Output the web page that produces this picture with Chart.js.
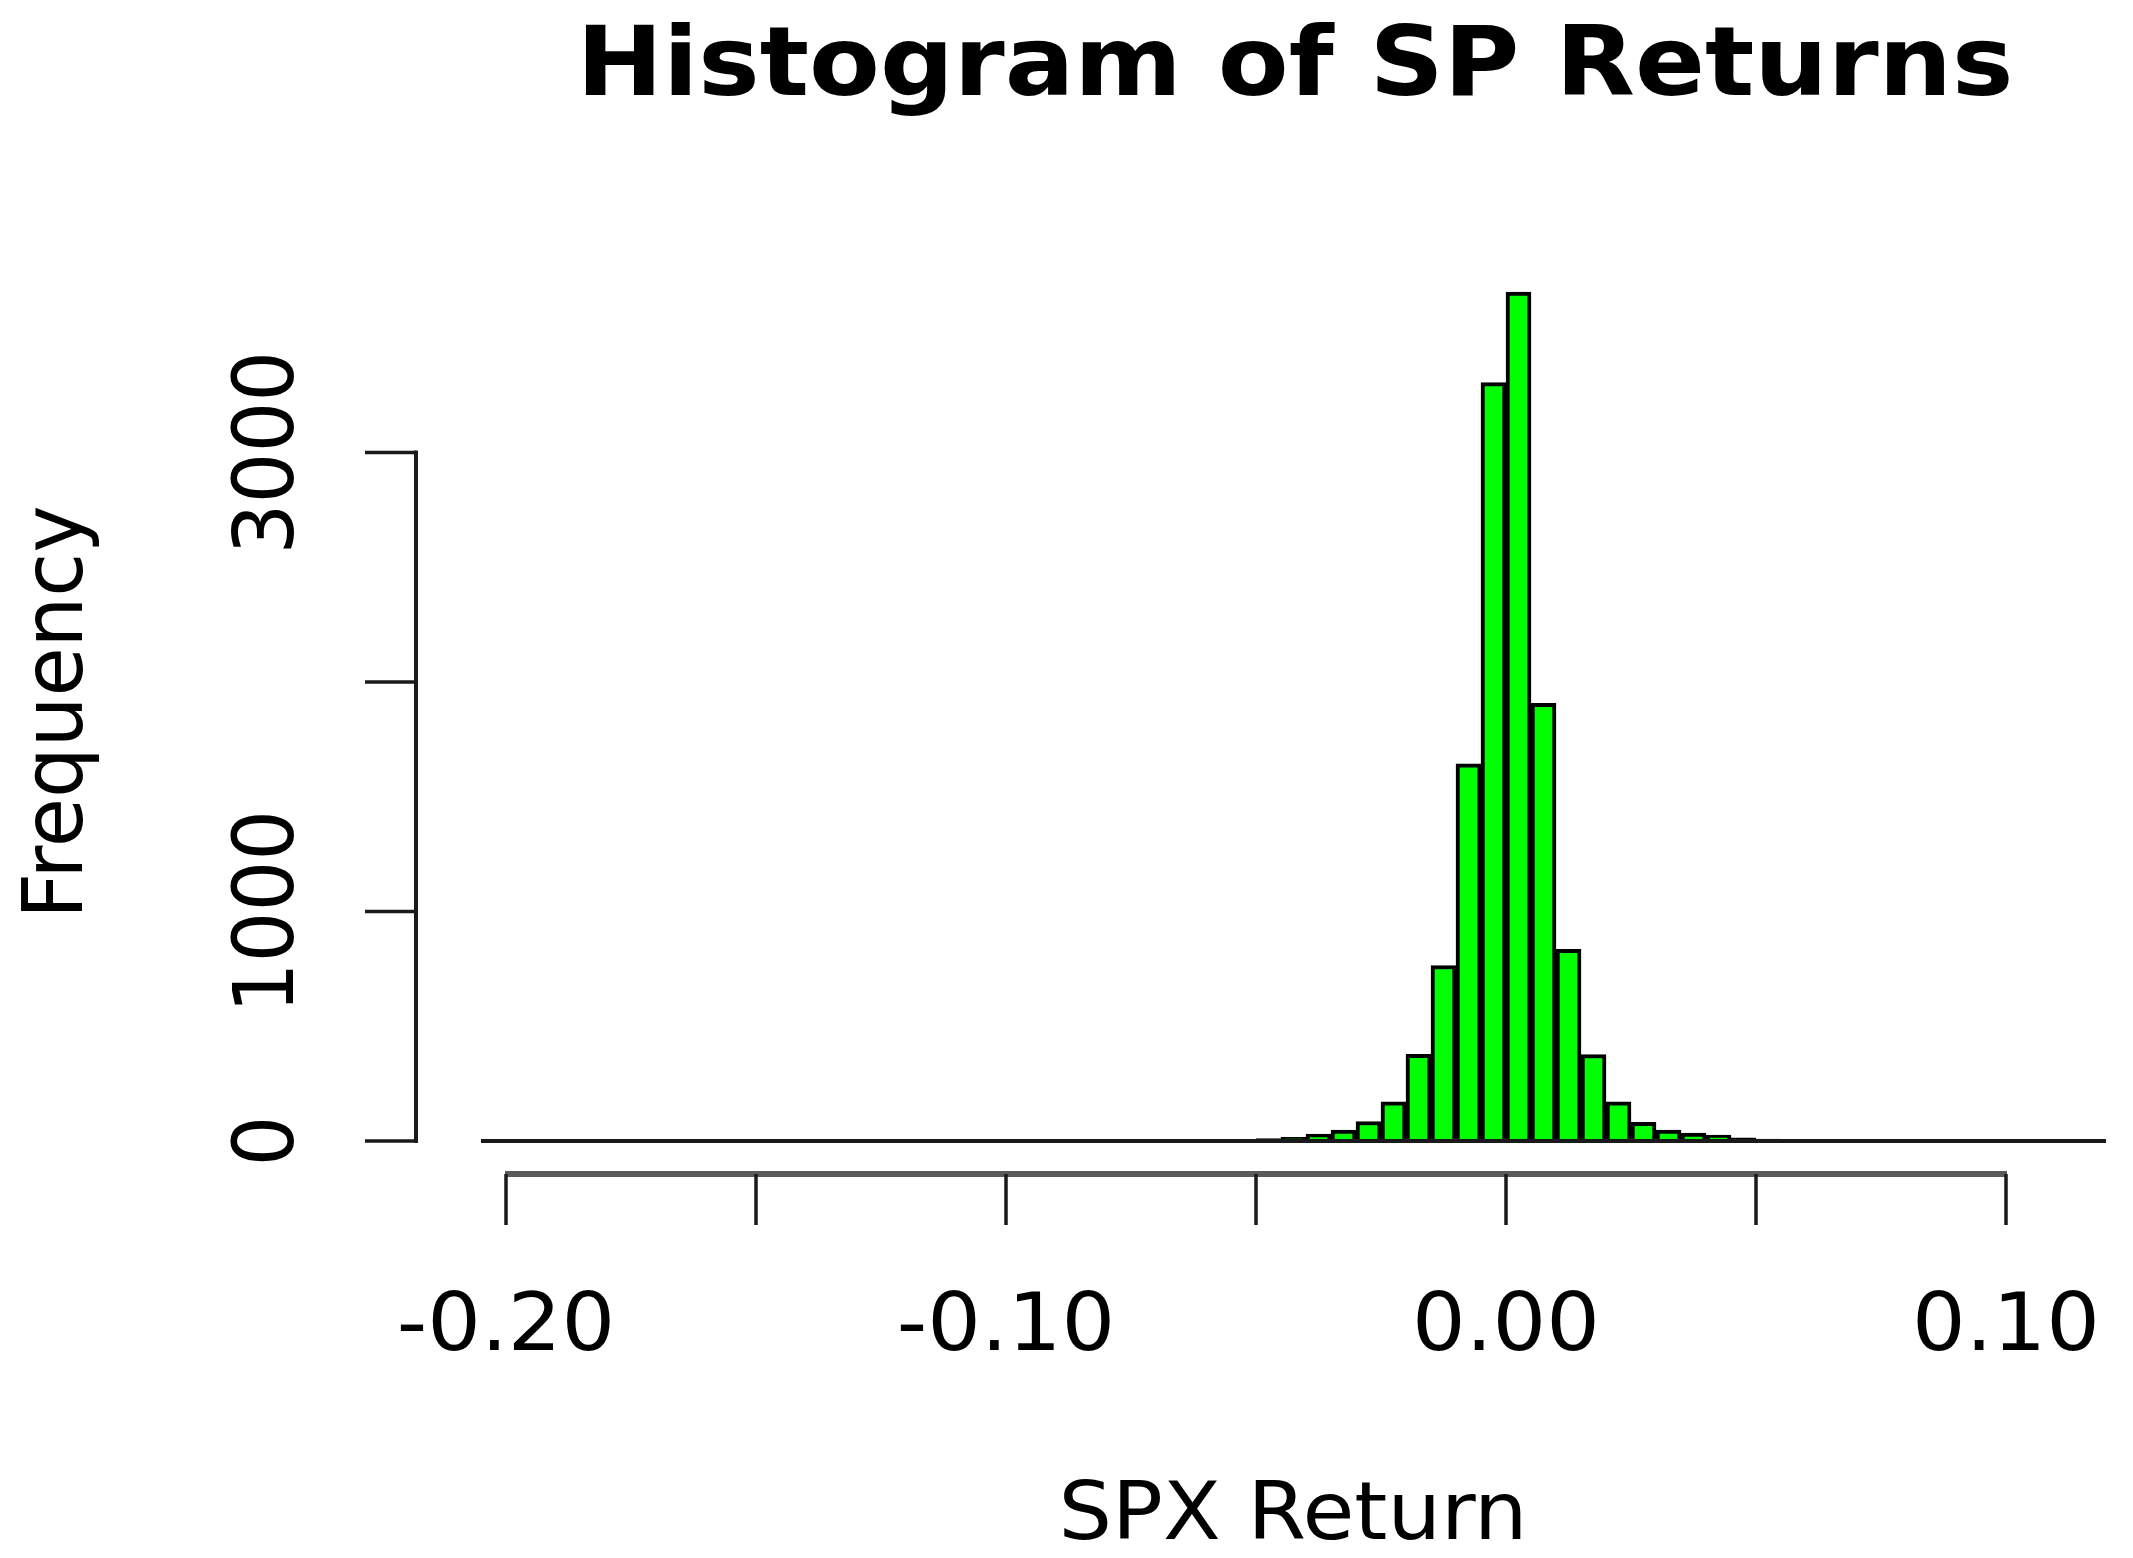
<!DOCTYPE html>
<html><head><meta charset="utf-8">
<script src="https://cdn.jsdelivr.net/npm/chart.js@4.4.1/dist/chart.umd.min.js"></script>
<style>html,body{margin:0;padding:0;background:#fff;overflow:hidden}canvas{display:block}</style>
</head><body>
<canvas id="c" width="2133" height="1558"></canvas>
<script>
// ---- data (histogram of daily S&P 500 returns, bin width 0.005) ----
const binCenters = [
  -0.2025,-0.1975,-0.1925,-0.1875,-0.1825,-0.1775,-0.1725,-0.1675,-0.1625,-0.1575,
  -0.1525,-0.1475,-0.1425,-0.1375,-0.1325,-0.1275,-0.1225,-0.1175,-0.1125,-0.1075,
  -0.1025,-0.0975,-0.0925,-0.0875,-0.0825,-0.0775,-0.0725,-0.0675,-0.0625,-0.0575,
  -0.0525,-0.0475,-0.0425,-0.0375,-0.0325,-0.0275,-0.0225,-0.0175,-0.0125,-0.0075,
  -0.0025,0.0025,0.0075,0.0125,0.0175,0.0225,0.0275,0.0325,0.0375,0.0425,
  0.0475,0.0525,0.0575,0.0625,0.0675,0.0725,0.0775,0.0825,0.0875,0.0925,
  0.0975,0.1025,0.1075,0.1125,0.1175
];
const counts = [
  1,0,0,0,0,0,0,0,0,0,
  0,0,0,0,0,0,0,1,0,0,
  0,1,1,2,1,2,3,3,4,5,
  7,11,16,30,48,85,171,378,765,1644,
  3305,3700,1907,835,377,171,82,48,35,26,
  14,9,5,3,2,2,2,1,1,1,
  0,1,1,0,1
];
const binWidth = 0.005;
const xTickValues = [-0.20,-0.15,-0.10,-0.05,0.00,0.05,0.10];
const xTickLabels = ['-0.20','','-0.10','','0.00','','0.10'];
const yTickValues = [0,1000,2000,3000];
const yTickLabels = ['0','1000','','3000'];
const titleText = 'Histogram of SP Returns';
const xAxisTitle = 'SPX Return';
const yAxisTitle = 'Frequency';

const FONT = '"DejaVu Sans", "Liberation Sans", sans-serif';

function drawText(ctx, text, x, y, size, bold, sx, rotated) {
  ctx.save();
  ctx.translate(x, y);
  ctx.scale(sx, 1);
  if (rotated) ctx.rotate(-Math.PI / 2);
  ctx.font = (bold ? 'bold ' : '') + size + 'px ' + FONT;
  ctx.textAlign = 'center';
  ctx.textBaseline = 'alphabetic';
  ctx.fillStyle = '#000';
  ctx.fillText(text, 0, 0);
  ctx.restore();
}

const rStyle = {
  id: 'rStyle',
  afterDatasetsDraw(chart) {
    const ctx = chart.ctx, xs = chart.scales.x, ys = chart.scales.y;
    const y0 = ys.getPixelForValue(0);
    const xa = xs.getPixelForValue(binCenters[0] - binWidth / 2);
    const xb = xs.getPixelForValue(binCenters[binCenters.length - 1] + binWidth / 2);
    ctx.save();
    ctx.strokeStyle = '#1a1a1a';
    ctx.lineWidth = 4;
    ctx.beginPath();
    ctx.moveTo(xa, y0);
    ctx.lineTo(xb, y0);
    ctx.stroke();
    ctx.restore();
  },
  afterDraw(chart) {
    const ctx = chart.ctx, xs = chart.scales.x, ys = chart.scales.y, ca = chart.chartArea;
    ctx.save();
    ctx.lineCap = 'butt';
    const ax = ca.left;
    ctx.strokeStyle = '#1a1a1a';
    ctx.lineWidth = 4;
    ctx.beginPath();
    ctx.moveTo(ax, ys.getPixelForValue(yTickValues[0]) + 2);
    ctx.lineTo(ax, ys.getPixelForValue(yTickValues[yTickValues.length - 1]) - 2);
    ctx.stroke();
    ctx.lineWidth = 3.5;
    yTickValues.forEach(v => {
      const py = ys.getPixelForValue(v);
      ctx.beginPath();
      ctx.moveTo(ax - 51, py);
      ctx.lineTo(ax, py);
      ctx.stroke();
    });
    const ay = ca.bottom - 1;
    ctx.strokeStyle = '#5a5a5a';
    ctx.lineWidth = 6;
    ctx.beginPath();
    ctx.moveTo(xs.getPixelForValue(xTickValues[0]) - 1, ay);
    ctx.lineTo(xs.getPixelForValue(xTickValues[xTickValues.length - 1]) + 1, ay);
    ctx.stroke();
    ctx.strokeStyle = '#1a1a1a';
    ctx.lineWidth = 3.5;
    xTickValues.forEach(v => {
      const px = xs.getPixelForValue(v);
      ctx.beginPath();
      ctx.moveTo(px, ay);
      ctx.lineTo(px, ay + 51);
      ctx.stroke();
    });
    ctx.restore();
    xTickValues.forEach((v, i) => {
      if (xTickLabels[i]) drawText(ctx, xTickLabels[i], xs.getPixelForValue(v), 1350, 80, false, 1.055, false);
    });
    yTickValues.forEach((v, i) => {
      if (yTickLabels[i]) drawText(ctx, yTickLabels[i], 293, ys.getPixelForValue(v), 80, false, 1.055, true);
    });
    drawText(ctx, titleText, 1295, 95, 96, true, 1.075, false);
    drawText(ctx, xAxisTitle, 1293, 1539, 80, false, 1.055, false);
    drawText(ctx, yAxisTitle, 82, 712, 80, false, 1.055, true);
  }
};

new Chart(document.getElementById('c'), {
  type: 'bar',
  data: {
    datasets: [{
      data: binCenters.map((x, i) => ({ x: x, y: counts[i] })),
      backgroundColor: '#00ff00',
      borderColor: '#000000',
      borderWidth: 4,
      barPercentage: 1,
      categoryPercentage: 1
    }]
  },
  options: {
    responsive: false,
    animation: false,
    devicePixelRatio: 1,
    layout: { padding: { left: 416, right: 0, top: 258, bottom: 383 } },
    plugins: { legend: { display: false }, tooltip: { enabled: false }, title: { display: false } },
    scales: {
      x: { type: 'linear', min: -0.218, max: 0.1254, offset: false, display: false },
      y: { type: 'linear', min: -148, max: 3848, display: false }
    }
  },
  plugins: [rStyle]
});
</script>
</body></html>
